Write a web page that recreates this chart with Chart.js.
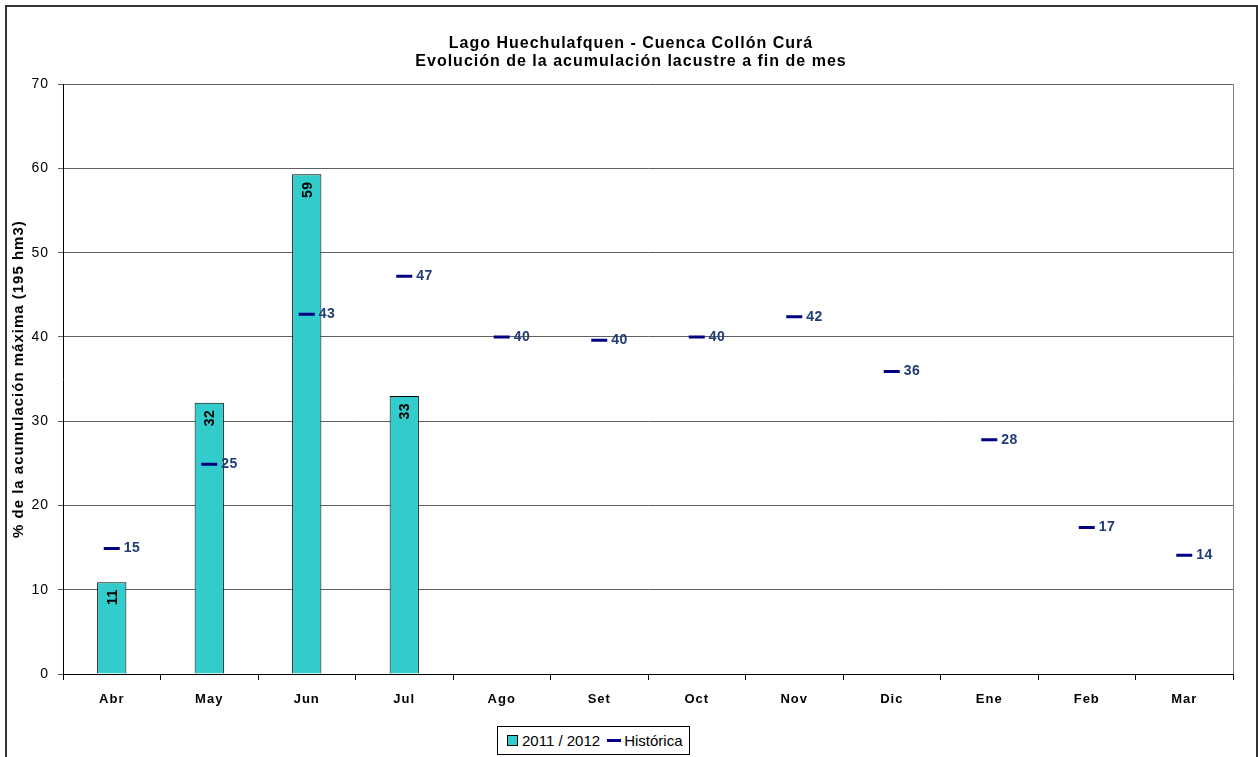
<!DOCTYPE html>
<html>
<head>
<meta charset="utf-8">
<script src="https://cdn.jsdelivr.net/npm/chart.js@4.4.0/dist/chart.umd.min.js"></script>
<style>
  body { margin: 0; background: #fff; font-family: "Liberation Sans", Arial, sans-serif; }
  #wrap { position: relative; width: 1258px; height: 757px; overflow: hidden; }
  #frame { position: absolute; left: 5px; top: 5px; width: 1249px; height: 800px; border: 2px solid #333; pointer-events: none; }
  #legend { position: absolute; left: 497px; top: 726px; width: 191px; height: 27px; border: 1px solid #000; background: #fff;
            font-size: 15px; color: #000; display: flex; align-items: center; white-space: nowrap; }
  .sw { display: inline-block; width: 9px; height: 9px; background: #33cccc; border: 1px solid #000; margin: 0 4px 0 9px; }
  .dash { display: inline-block; width: 14px; height: 3px; background: #000080; margin: 0 3px 0 7px; }
</style>
</head>
<body>
<div id="wrap">
  <canvas id="chart" width="1258" height="757"></canvas>
  <div id="frame"></div>
  <div id="legend"><span class="sw"></span>2011 / 2012<span class="dash"></span>Histórica</div>
</div>
<script>
// months (april to march)
const months = ['Abr', 'May', 'Jun', 'Jul', 'Ago', 'Set', 'Oct', 'Nov', 'Dic', 'Ene', 'Feb', 'Mar']

// % of max storage, season 2011/2012 (only first four months)
const season = [10.9, 32.2, 59.3, 33.0, null, null, null, null, null, null, null, null]

// historic average
const historic = [14.9, 24.9, 42.7, 47.2, 40.0, 39.6, 40.0, 42.4, 35.9, 27.8, 17.4, 14.1]

const titleLines = ['Lago Huechulafquen - Cuenca Collón Curá', 'Evolución de la acumulación lacustre a fin de mes']
const yTitle = '% de la acumulación máxima (195 hm3)'

const fontFam = '"Liberation Sans", Arial, sans-serif'

// the excel look has wider letter spacing on titles and axis labels
const spacing = {
    id: 'spacing',
    beforeDraw(chart) { chart.ctx.letterSpacing = '1px' },
    beforeDatasetsDraw(chart) { chart.ctx.letterSpacing = '0px' }
}

// value labels: rotated inside bars, plain to the right of the dashes
const labelPlugin = {
    id: 'valueLabels',
    afterDatasetsDraw(chart) {
        const ctx = chart.ctx
        const barMeta = chart.getDatasetMeta(0)
        ctx.save()
        ctx.letterSpacing = '0.5px'
        ctx.font = 'bold 14px ' + fontFam
        ctx.fillStyle = '#000'
        barMeta.data.forEach((el, i) => {
            if (season[i] == null) return
            ctx.save()
            ctx.translate(el.x, el.y + 7)
            ctx.rotate(-Math.PI / 2)
            ctx.textAlign = 'right'
            ctx.textBaseline = 'middle'
            ctx.fillText(Math.round(season[i]), 0, 1)
            ctx.restore()
        })
        const lineMeta = chart.getDatasetMeta(1)
        ctx.fillStyle = '#1f3c74'
        ctx.textAlign = 'left'
        ctx.textBaseline = 'middle'
        lineMeta.data.forEach((el, i) => {
            ctx.fillText(Math.round(historic[i]), el.x + 12, el.y)
        })
        ctx.restore()
    }
}

// gray border on the right side of the plot area
const plotBorder = {
    id: 'plotBorder',
    beforeDatasetsDraw(chart) {
        const a = chart.chartArea
        const ctx = chart.ctx
        ctx.save()
        ctx.strokeStyle = '#808080'
        ctx.lineWidth = 1
        ctx.beginPath()
        ctx.moveTo(a.right + 0.5, a.top)
        ctx.lineTo(a.right + 0.5, a.bottom)
        ctx.stroke()
        ctx.restore()
    }
}

const bgPlugin = {
    id: 'bg',
    beforeDraw(chart) {
        const ctx = chart.ctx
        ctx.save()
        ctx.fillStyle = '#fff'
        ctx.fillRect(0, 0, chart.width, chart.height)
        ctx.restore()
    }
}

new Chart('chart', {
    type: 'bar',
    data: {
        labels: months,
        datasets: [{
            label: '2011 / 2012',
            data: season,
            backgroundColor: '#33cccc',
            borderColor: '#000',
            borderWidth: 1,
            barPercentage: 0.3,
            categoryPercentage: 1,
            order: 2
        }, {
            type: 'line',
            label: 'Histórica',
            data: historic,
            showLine: false,
            pointStyle: 'line',
            pointRadius: 8,
            pointHoverRadius: 8,
            pointBorderWidth: 3,
            borderColor: '#000080',
            backgroundColor: '#000080',
            order: 1
        }]
    },
    options: {
        responsive: false,
        animation: false,
        layout: { padding: { left: 4, right: 0, top: 0, bottom: 0 } },
        plugins: {
            legend: { display: false },
            tooltip: { enabled: false },
            title: {
                display: true,
                text: titleLines,
                color: '#000',
                font: { family: fontFam, size: 16, weight: 'bold', lineHeight: 1.1 },
                padding: { top: 35, bottom: 14 }
            }
        },
        scales: {
            x: {
                grid: { drawOnChartArea: false, offset: true, tickLength: 6, color: '#000' },
                border: { color: '#000' },
                ticks: { color: '#000', font: { family: fontFam, size: 13, weight: 'bold' }, padding: 12, maxRotation: 0 },
                afterFit(scale) { scale.height = 83 }
            },
            y: {
                min: 0,
                max: 70,
                ticks: { stepSize: 10, color: '#000', font: { family: fontFam, size: 14 }, padding: 9 },
                grid: { color: '#606060', tickLength: 5 },
                border: { color: '#000' },
                title: {
                    display: true,
                    text: yTitle,
                    color: '#000',
                    font: { family: fontFam, size: 15, weight: 'bold' },
                    padding: { top: 6, bottom: 4 }
                },
                afterFit(scale) { scale.width = 59 }
            },
            // empty right axis, only keeps the space on the right side
            yRight: {
                position: 'right',
                min: 0,
                max: 70,
                ticks: { display: false },
                grid: { drawOnChartArea: false, drawTicks: false },
                border: { display: false },
                afterFit(scale) { scale.width = 25 }
            }
        }
    },
    plugins: [bgPlugin, spacing, plotBorder, labelPlugin]
});
</script>
</body>
</html>
